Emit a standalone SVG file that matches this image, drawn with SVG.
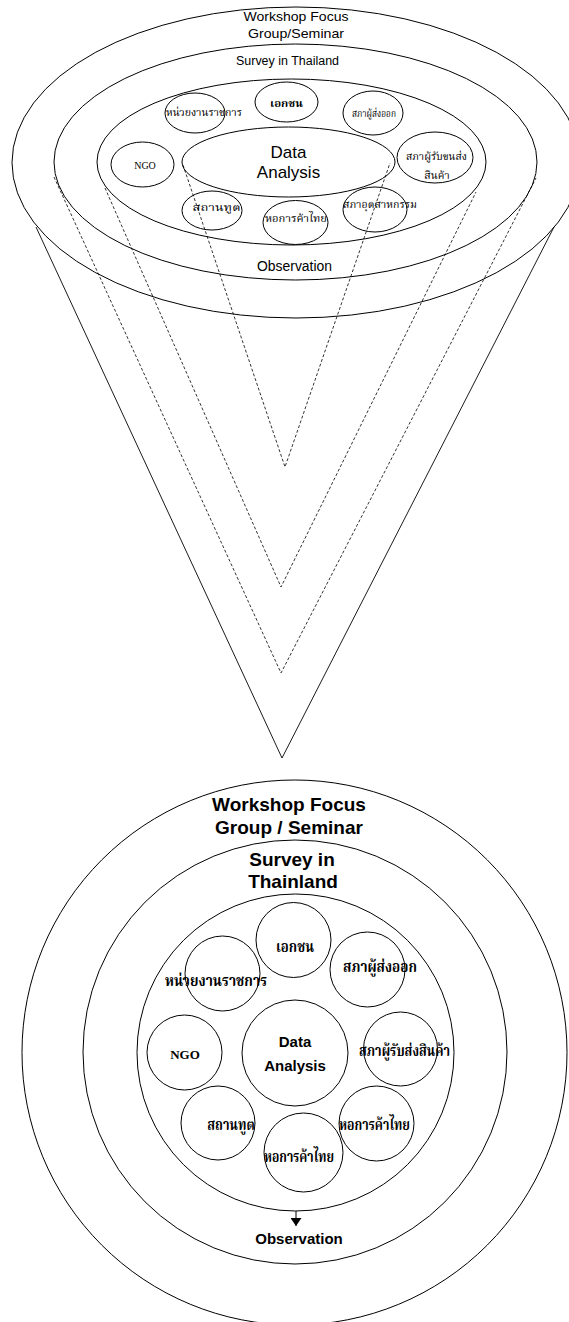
<svg xmlns="http://www.w3.org/2000/svg" width="569" height="1322" viewBox="0 0 569 1322">
<defs>
<style>
.bg{fill:#fff}
.ring{fill:none;stroke:#000;stroke-width:1}
.node{fill:none;stroke:#000;stroke-width:1}
.cone{fill:none;stroke:#000;stroke-width:0.9}
.dash{fill:none;stroke:#000;stroke-width:0.8;stroke-dasharray:3 2}
.en{font-family:"Liberation Sans",Arial,sans-serif;fill:#000;text-anchor:middle}
.enb{font-family:"Liberation Sans",Arial,sans-serif;font-weight:bold;fill:#000;text-anchor:middle}
.th{font-family:"Noto Serif Thai","Noto Sans Thai","Tlwg Typo","Garuda","Liberation Serif",serif;fill:#000;text-anchor:middle}
.thb{font-family:"Noto Serif Thai","Noto Sans Thai","Tlwg Typo","Garuda","Liberation Serif",serif;font-weight:bold;fill:#000;text-anchor:middle}
.ser{font-family:"Liberation Serif","Times New Roman",serif;fill:#000;text-anchor:middle}
</style>
<marker id="arr" viewBox="0 0 8 11" refX="8" refY="5.5" markerWidth="8" markerHeight="11" markerUnits="userSpaceOnUse" orient="auto">
<path d="M0,0 L8,5.5 L0,11 z" fill="#000"/>
</marker>
</defs>
<rect class="bg" x="0" y="0" width="569" height="1322"/>

<!-- ===== Top: cone view ===== -->
<g id="top-workshop">
<ellipse class="ring" cx="296" cy="162.5" rx="284" ry="155.5"/>
<text class="en" x="296" y="21" font-size="13.5" textLength="105" lengthAdjust="spacingAndGlyphs">Workshop Focus</text>
<text class="en" x="296" y="37.5" font-size="13.5" textLength="96" lengthAdjust="spacingAndGlyphs">Group/Seminar</text>
</g>
<g id="top-survey">
<ellipse class="ring" cx="295.5" cy="162" rx="241.5" ry="118"/>
<text class="en" x="287.5" y="65" font-size="12.5" textLength="103" lengthAdjust="spacingAndGlyphs">Survey in Thailand</text>
</g>
<g id="top-observation">
<ellipse class="ring" cx="291.5" cy="162" rx="194.5" ry="83"/>
<text class="en" x="294.5" y="271" font-size="14" textLength="75" lengthAdjust="spacingAndGlyphs">Observation</text>
</g>
<g id="top-data-analysis">
<ellipse class="node" cx="288.5" cy="162" rx="106.5" ry="35"/>
<text class="en" x="288.5" y="157.5" font-size="17">Data</text>
<text class="en" x="288.5" y="177.5" font-size="17">Analysis</text>
</g>
<g id="top-gov">
<ellipse class="node" cx="195" cy="113" rx="30" ry="20"/>
<text class="th" x="204" y="116" font-size="11" textLength="76" lengthAdjust="spacingAndGlyphs">หน่วยงานราชการ</text>
</g>
<g id="top-private">
<ellipse class="node" cx="286.5" cy="102" rx="31.5" ry="20"/>
<text class="thb" x="286.5" y="107" font-size="11" textLength="33" lengthAdjust="spacingAndGlyphs">เอกชน</text>
</g>
<g id="top-exporters">
<ellipse class="node" cx="373" cy="113" rx="30" ry="22"/>
<text class="th" x="374" y="117" font-size="11" textLength="44" lengthAdjust="spacingAndGlyphs">สภาผู้ส่งออก</text>
</g>
<g id="top-ngo">
<ellipse class="node" cx="142.5" cy="164.5" rx="31.5" ry="22.5"/>
<text class="ser" x="145" y="169" font-size="10">NGO</text>
</g>
<g id="top-shippers">
<ellipse class="node" cx="435" cy="157.5" rx="38" ry="25.5"/>
<text class="th" x="436.5" y="159.5" font-size="11" textLength="61" lengthAdjust="spacingAndGlyphs">สภาผู้รับขนส่ง</text>
<text class="th" x="437" y="179" font-size="11" textLength="25.5" lengthAdjust="spacingAndGlyphs">สินค้า</text>
</g>
<g id="top-embassy">
<ellipse class="node" cx="212" cy="210.5" rx="30" ry="19.5"/>
<text class="th" x="216.5" y="211" font-size="11" textLength="48" lengthAdjust="spacingAndGlyphs">สถานทูต</text>
</g>
<g id="top-chamber">
<ellipse class="node" cx="295.5" cy="222.5" rx="32.5" ry="22"/>
<text class="th" x="296" y="222" font-size="11" textLength="62" lengthAdjust="spacingAndGlyphs">หอการค้าไทย</text>
</g>
<g id="top-industry">
<ellipse class="node" cx="375" cy="209.5" rx="32" ry="22.5"/>
<text class="th" x="380" y="208" font-size="11" textLength="74" lengthAdjust="spacingAndGlyphs">สภาอุตสาหกรรม</text>
</g>

<!-- ===== Bottom: concentric view ===== -->
<g id="bottom-workshop">
<circle class="ring" cx="294.5" cy="1052.5" r="272.5"/>
<text class="enb" x="289" y="811" font-size="19">Workshop Focus</text>
<text class="enb" x="289" y="833.5" font-size="19">Group / Seminar</text>
</g>
<g id="bottom-survey">
<circle class="ring" cx="295" cy="1052" r="212"/>
<text class="enb" x="292" y="866" font-size="19">Survey in</text>
<text class="enb" x="293" y="888" font-size="19">Thainland</text>
</g>
<g id="bottom-observation">
<circle class="ring" cx="295.5" cy="1052.5" r="158.5"/>
<text class="enb" x="299" y="1244" font-size="15">Observation</text>
</g>
<g id="bottom-data-analysis">
<circle class="node" cx="295" cy="1053" r="53"/>
<text class="enb" x="295" y="1047" font-size="15">Data</text>
<text class="enb" x="295" y="1071" font-size="15">Analysis</text>
</g>
<g id="bottom-private">
<circle class="node" cx="293.5" cy="940" r="37.5"/>
<text class="thb" x="295" y="951.5" font-size="15" textLength="38" lengthAdjust="spacingAndGlyphs">เอกชน</text>
</g>
<g id="bottom-gov">
<circle class="node" cx="222.5" cy="973.5" r="37.5"/>
<text class="thb" x="216" y="986" font-size="15" textLength="102" lengthAdjust="spacingAndGlyphs">หน่วยงานราชการ</text>
</g>
<g id="bottom-exporters">
<circle class="node" cx="367.5" cy="969.5" r="37.5"/>
<text class="thb" x="380" y="971.5" font-size="15" textLength="74" lengthAdjust="spacingAndGlyphs">สภาผู้ส่งออก</text>
</g>
<g id="bottom-ngo">
<circle class="node" cx="184.5" cy="1052.5" r="37.5"/>
<text class="ser" x="185" y="1059" font-size="13" font-weight="bold">NGO</text>
</g>
<g id="bottom-shippers">
<circle class="node" cx="400.5" cy="1049" r="37"/>
<text class="thb" x="404.5" y="1056" font-size="15" textLength="91" lengthAdjust="spacingAndGlyphs">สภาผู้รับส่งสินค้า</text>
</g>
<g id="bottom-embassy">
<circle class="node" cx="218" cy="1123" r="37"/>
<text class="thb" x="231" y="1130" font-size="15" textLength="47.5" lengthAdjust="spacingAndGlyphs">สถานทูต</text>
</g>
<g id="bottom-chamber-right">
<circle class="node" cx="376.5" cy="1123.5" r="37.5"/>
<text class="thb" x="374.5" y="1130" font-size="15" textLength="71" lengthAdjust="spacingAndGlyphs">หอการค้าไทย</text>
</g>
<g id="bottom-chamber">
<circle class="node" cx="303.5" cy="1152.5" r="39.5"/>
<text class="thb" x="299" y="1162" font-size="15" textLength="70" lengthAdjust="spacingAndGlyphs">หอการค้าไทย</text>
</g>

<!-- ===== Connectors ===== -->
<g id="connectors">
<polyline class="cone" points="36,227 282,758 554,227"/>
<polyline class="dash" points="54,177 281,673 536,178"/>
<polyline class="dash" points="105,188 281,587 476,192"/>
<polyline class="dash" points="183,165 285,467 390,163"/>
<line x1="296" y1="1211" x2="296" y2="1226" stroke="#000" stroke-width="1" marker-end="url(#arr)"/>
</g>
</svg>
